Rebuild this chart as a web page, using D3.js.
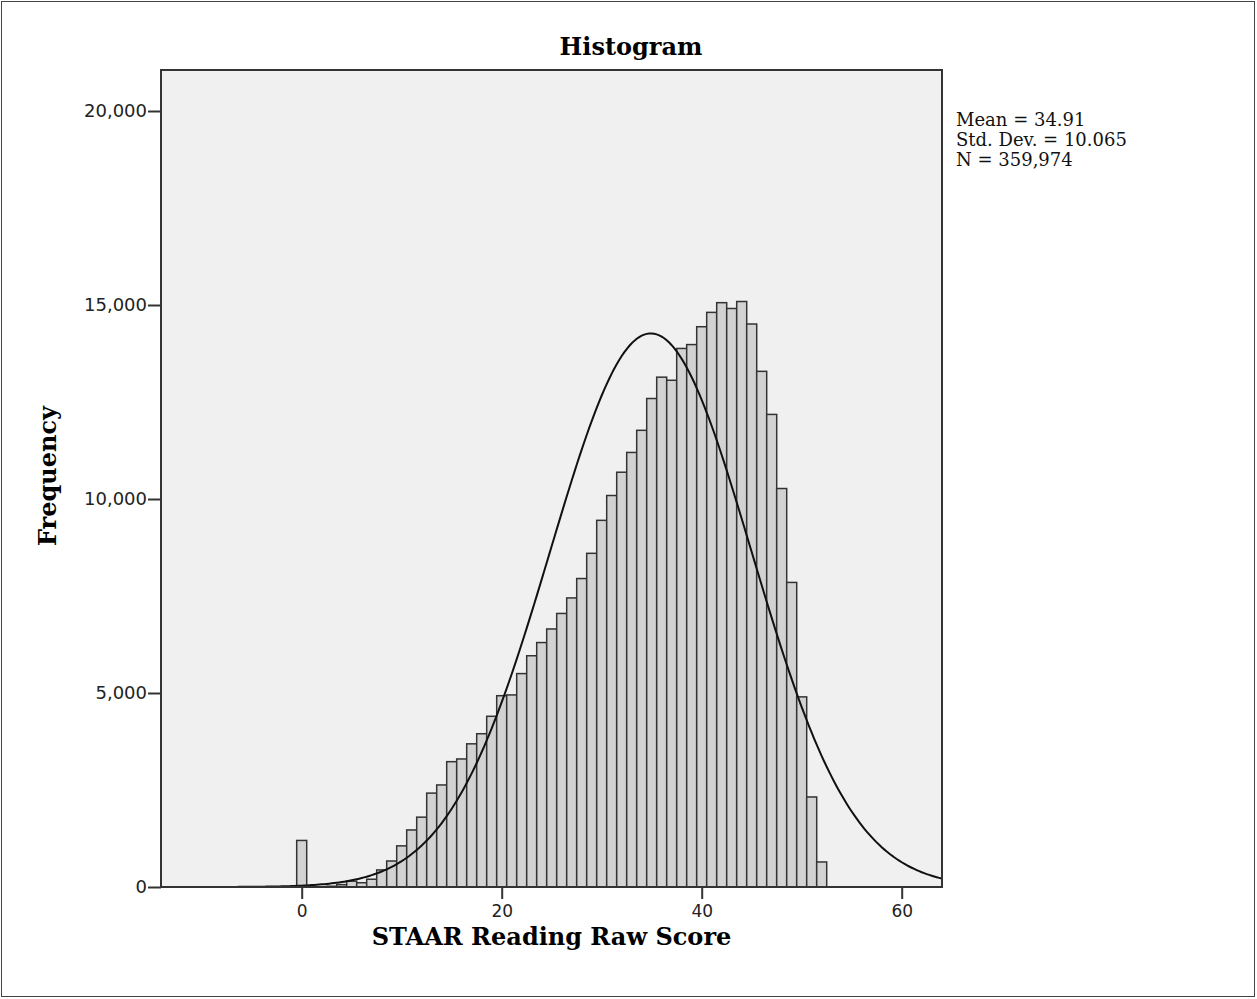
<!DOCTYPE html>
<html>
<head>
<meta charset="utf-8">
<script src="https://cdn.jsdelivr.net/npm/d3@7"></script>
<style>
  body { margin: 0; background: #fff; }
  svg { display: block; }
</style>
</head>
<body>
<svg id="chart" width="1257" height="999"></svg>
<script>
// raw score bins (width 1, centred on the score) and their counts
var scores = [0, 3, 4, 5, 6, 7, 8, 9, 10, 11, 12, 13, 14, 15, 16, 17, 18, 19, 20,
  21, 22, 23, 24, 25, 26, 27, 28, 29, 30, 31, 32, 33, 34, 35, 36, 37, 38, 39, 40,
  41, 42, 43, 44, 45, 46, 47, 48, 49, 50, 51, 52];
var freqs = [1200, 20, 60, 150, 110, 200, 440, 670, 1060, 1470, 1800, 2420, 2630, 3230, 3300, 3690, 3950, 4400, 4930,
  4950, 5500, 5960, 6300, 6650, 7050, 7450, 7950, 8600, 9450, 10090, 10690, 11200, 11770, 12590, 13140, 13060, 13880, 13980, 14440,
  14810, 15060, 14910, 15090, 14510, 13290, 12180, 10270, 7850, 4900, 2320, 645];

var yTicks = [0, 5000, 10000, 15000, 20000];
var xTicks = [0, 20, 40, 60];
var stats = ["Mean = 34.91", "Std. Dev. = 10.065", "N = 359,974"];
var mean = 34.91, sd = 10.065, n = 359974;

function drawChart() {
  var svg = d3.select("#chart");

  // outer frame of the output window
  svg.append("rect")
    .attr("x", 1.5).attr("y", 1.5)
    .attr("width", 1253).attr("height", 995)
    .attr("fill", "none").attr("stroke", "#444").attr("stroke-width", 1);

  var pLeft = 161, pRight = 942, pTop = 70, pBottom = 887;

  var x = d3.scaleLinear().domain([-14, 64]).range([pLeft + 0.7, pLeft + 780.7]);
  var y = d3.scaleLinear().domain([0, 20000]).range([pBottom, 111]);

  // plot background
  svg.append("rect")
    .attr("x", pLeft).attr("y", pTop)
    .attr("width", pRight - pLeft).attr("height", pBottom - pTop)
    .attr("fill", "#f0f0f0");

  // bars
  svg.append("g").selectAll("rect")
    .data(scores)
    .enter()
    .append("rect")
    .attr("x", function(d) { return x(d - 0.5); })
    .attr("width", function(d) { return x(d + 0.5) - x(d - 0.5); })
    .attr("y", function(d, i) { return y(freqs[i]); })
    .attr("height", function(d, i) { return pBottom - y(freqs[i]); })
    .attr("fill", "#d2d2d2")
    .attr("stroke", "#333")
    .attr("stroke-width", 1.5);

  // normal curve for the stated mean / sd / N
  var pts = d3.range(-14, 64.01, 0.25).map(function(v) {
    var z = (v - mean) / sd;
    return [v, n / (sd * Math.sqrt(2 * Math.PI)) * Math.exp(-0.5 * z * z)];
  });
  svg.append("path")
    .datum(pts)
    .attr("fill", "none")
    .attr("stroke", "#111")
    .attr("stroke-width", 2)
    .attr("d", d3.line().x(function(d) { return x(d[0]); }).y(function(d) { return y(d[1]); }));

  // plot frame
  svg.append("rect")
    .attr("x", pLeft).attr("y", pTop)
    .attr("width", pRight - pLeft).attr("height", pBottom - pTop)
    .attr("fill", "none").attr("stroke", "#333").attr("stroke-width", 2);

  // axes
  var yAxis = d3.axisLeft(y).tickValues(yTicks).tickSize(13).tickPadding(1)
    .tickFormat(d3.format(","));
  var gy = svg.append("g").attr("transform", "translate(" + pLeft + ",0)").call(yAxis);
  var xAxis = d3.axisBottom(x).tickValues(xTicks).tickSize(12).tickPadding(6)
    .tickFormat(d3.format("d"));
  var gx = svg.append("g").attr("transform", "translate(0," + pBottom + ")").call(xAxis);

  [gy, gx].forEach(function(g) {
    g.select(".domain").remove();
    g.selectAll("line").attr("stroke", "#333").attr("stroke-width", 2);
    g.selectAll("text")
      .attr("fill", "#222")
      .style("font-family", "DejaVu Sans, sans-serif")
      .style("font-size", "17px");
  });
  gy.selectAll("text").style("font-size", "18px");

  // titles
  svg.append("text")
    .attr("x", 631).attr("y", 55)
    .attr("text-anchor", "middle")
    .style("font-family", "DejaVu Serif, serif").style("font-weight", "bold").style("font-size", "24px")
    .text("Histogram");

  svg.append("text")
    .attr("x", (pLeft + pRight) / 2).attr("y", 945)
    .attr("text-anchor", "middle")
    .style("font-family", "DejaVu Serif, serif").style("font-weight", "bold").style("font-size", "24px")
    .text("STAAR Reading Raw Score");

  svg.append("text")
    .attr("transform", "translate(56,476) rotate(-90)")
    .attr("text-anchor", "middle")
    .style("font-family", "DejaVu Serif, serif").style("font-weight", "bold").style("font-size", "24px")
    .text("Frequency");

  // stats box
  svg.append("g").selectAll("text")
    .data(stats)
    .enter()
    .append("text")
    .attr("x", 956)
    .attr("y", function(d, i) { return 126 + i * 20; })
    .style("font-family", "DejaVu Serif, serif").style("font-size", "18px")
    .attr("fill", "#111")
    .text(function(d) { return d; });
}

drawChart();
</script>
</body>
</html>
